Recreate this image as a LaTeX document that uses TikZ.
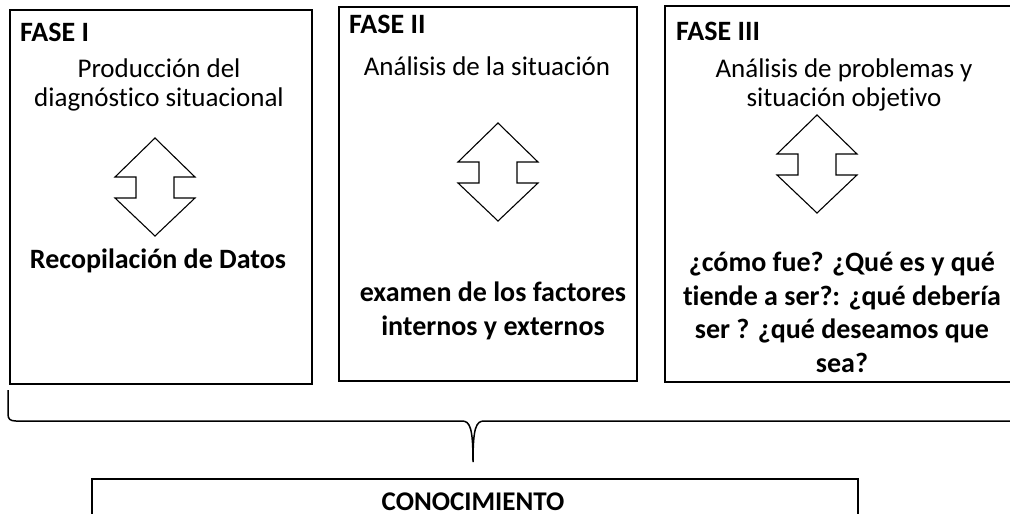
\documentclass[tikz,border=0pt]{standalone}
\usepackage{fontspec}
\setmainfont{Carlito}[Ligatures=NoCommon]
\usetikzlibrary{shapes,calc}

\tikzset{
	caja/.style={rectangle, draw, line width=1.6pt},
	fase/.style={anchor=base west, inner sep=0pt, font=\fontsize{28}{32}\selectfont\bfseries},
	titulo/.style={anchor=base, inner sep=0pt, align=center, font=\fontsize{27}{28.5}\selectfont},
	nota/.style={anchor=base, inner sep=0pt, align=center, font=\fontsize{28}{33.5}\selectfont\bfseries},
	dobleflecha/.pic={
		\draw[line width=1.1pt, line join=miter]
			(0,0) -- (40,39) -- (19,39) -- (19,60) -- (40,60) -- (0,98)
			-- (-40,60) -- (-19,60) -- (-19,39) -- (-40,39) -- cycle;
	}
}

\begin{document}
\begin{tikzpicture}[x=1pt, y=-1pt]
		\useasboundingbox (0,0) rectangle (1010,514);

		% las tres fases
		\draw[caja] (10,10) rectangle (312,384);
		\draw[caja] (339,7) rectangle (637,381);
		\draw[caja] (665,6) rectangle (1022,382);

		\path (20,41) node[fase] (f1) {FASE I}
			(349,33) node[fase] (f2) {FASE II}
			(676,40) node[fase] (f3) {FASE III}
			(159,106) node[titulo] (t1) {Producción del\\diagnóstico situacional}
			(487,75) node[titulo] (t2) {Análisis de la situación}
			(844,106) node[titulo] (t3) {Análisis de problemas y\\situación objetivo}
			(158,268) node[nota] (n1) {Recopilación de Datos}
			(493,335) node[nota] (n2) {examen de los factores\\internos y externos}
			(842,372) node[nota] (n3) {¿cómo fue? ¿Qué es y qué\\tiende a ser?: ¿qué debería\\ser ? ¿qué deseamos que\\sea?};

		\pic at (155,138) {dobleflecha};
		\pic at (498,123) {dobleflecha};
		\pic at (817,115) {dobleflecha};

		% llave
		\draw[line width=1.5pt] (8,390) -- (8,414) .. controls (8,419) and (10,421) .. (16,421)
			-- (462,421) .. controls (470,421) and (473,428) .. (473,462)
			.. controls (473,428) and (476,421) .. (484,421) -- (1030,421);

		% conocimiento
		\draw[caja] (92,479) rectangle (858,540);
		\path (473,510) node[nota, font=\fontsize{27}{32}\selectfont\bfseries] (con) {CONOCIMIENTO};
	\end{tikzpicture}
\end{document}
